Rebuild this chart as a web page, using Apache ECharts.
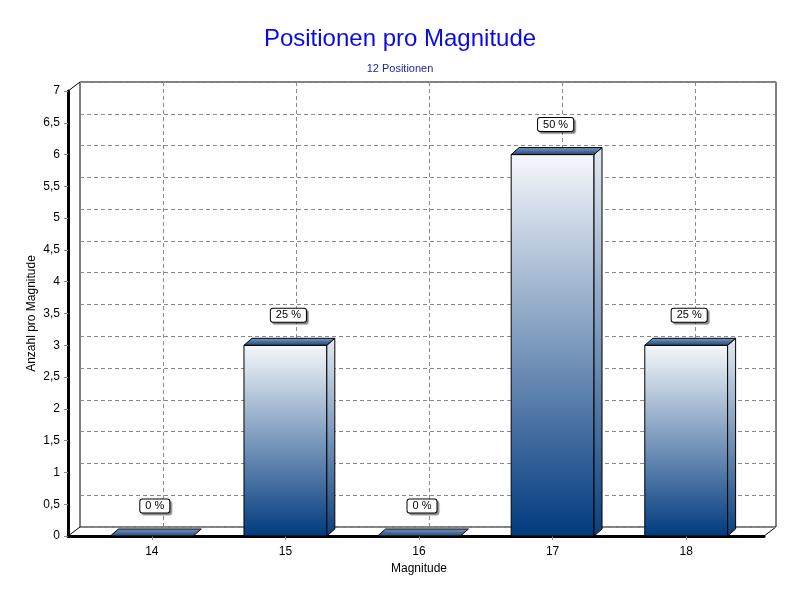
<!DOCTYPE html>
<html>
<head>
<meta charset="utf-8">
<script src="https://cdn.jsdelivr.net/npm/echarts@6/dist/echarts.min.js"></script>
<style>
  html, body { margin: 0; padding: 0; background: #fff; }
  #chart { width: 800px; height: 600px; }
</style>
</head>
<body>
<div id="chart"></div>
<script>
// Daten
const magnitudes = ['14', '15', '16', '17', '18'];
const anzahl = [0, 3, 0, 6, 3];
const total = anzahl.reduce((a, b) => a + b, 0);
const prozent = anzahl.map(v => Math.round(v / total * 100) + ' %');

const DX = 8, DY = -7; // 3D-Tiefe

const chart = echarts.init(document.getElementById('chart'));

const dashed = { show: true, lineStyle: { color: '#8a8a8a', type: [4, 3], width: 1 } };
const hidden = { show: false };

const renderBar = (params, api) => {
  const idx = api.value(0);
  const val = api.value(1);
  const top = api.coord([idx, val]);
  const base = api.coord([idx, 0]);
  const w = api.size([1, 0])[0] * 0.62;
  const x0 = top[0] - w / 2, x1 = top[0] + w / 2;
  const yt = top[1], yb = base[1];
  const frontFill = new echarts.graphic.LinearGradient(0, 0, 0, 1, [
    { offset: 0, color: '#f6f8fb' },
    { offset: 1, color: '#003a7e' }
  ]);
  const sideFill = new echarts.graphic.LinearGradient(0, 0, 0, 1, [
    { offset: 0, color: '#e4eaf2' },
    { offset: 1, color: '#0b3f7c' }
  ]);
  const topFill = new echarts.graphic.LinearGradient(0, 0, 0, 1, [
    { offset: 0, color: '#7f9cc0' },
    { offset: 1, color: '#1b4479' }
  ]);
  const children = [];
  if (yb - yt > 0.5) {
    children.push({
      type: 'rect',
      shape: { x: x0, y: yt, width: w, height: yb - yt },
      style: { fill: frontFill, stroke: '#000', lineWidth: 1 }
    });
    children.push({
      type: 'polygon',
      shape: { points: [[x1, yt], [x1 + DX, yt + DY], [x1 + DX, yb + DY], [x1, yb]] },
      style: { fill: sideFill, stroke: '#000', lineWidth: 1 }
    });
  }
  children.push({
    type: 'polygon',
    shape: { points: [[x0, yt], [x0 + DX, yt + DY], [x1 + DX, yt + DY], [x1, yt]] },
    style: { fill: topFill, stroke: '#000', lineWidth: 1 }
  });
  children.push({
    type: 'text',
    x: top[0] + 3,
    y: yt - 30,
    style: {
      text: prozent[params.dataIndex],
      align: 'center',
      verticalAlign: 'middle',
      font: '11px "Liberation Sans", Arial, sans-serif',
      fill: '#000',
      backgroundColor: '#fff',
      borderColor: '#000',
      borderWidth: 1,
      borderRadius: 2,
      padding: [1, 5, 1, 5],
      shadowColor: 'rgba(0,0,0,0.35)',
      shadowOffsetX: 2,
      shadowOffsetY: 2,
      shadowBlur: 1
    }
  });
  return { type: 'group', children };
};

const option = {
  backgroundColor: '#fff',
  animation: false,
  title: {
    text: 'Positionen pro Magnitude',
    subtext: '12 Positionen',
    left: 'center',
    top: 22,
    itemGap: 12,
    textStyle: { color: '#0a0ae6', fontSize: 24, fontWeight: 'normal', fontFamily: '"Liberation Sans", Arial, sans-serif' },
    subtextStyle: { color: '#1c1ca8', fontSize: 11, fontFamily: '"Liberation Sans", Arial, sans-serif' }
  },
  grid: [
    { left: 80, right: 24, top: 82, bottom: 73, show: true, borderColor: '#000', borderWidth: 1, backgroundColor: 'transparent' },
    { left: 163, right: 105, top: 82, bottom: 73 },
    { left: 68, right: 36, top: 91, bottom: 64 },
    { left: 85, right: 47, top: 91, bottom: 64 }
  ],
  xAxis: [
    { gridIndex: 0, type: 'value', min: 0, max: 1, axisLine: hidden, axisTick: hidden, axisLabel: hidden, splitLine: hidden },
    { gridIndex: 1, type: 'value', min: 0, max: 4, interval: 1, axisLine: hidden, axisTick: hidden, axisLabel: hidden, splitLine: dashed },
    { gridIndex: 2, type: 'value', min: 0, max: 1, axisLine: { show: true, lineStyle: { color: '#000', width: 3 } }, axisTick: hidden, axisLabel: hidden, splitLine: hidden },
    {
      gridIndex: 3, type: 'category', data: magnitudes,
      name: 'Magnitude', nameLocation: 'middle', nameGap: 27,
      nameTextStyle: { color: '#000', fontSize: 12, fontFamily: '"Liberation Sans", Arial, sans-serif' },
      axisLine: hidden,
      axisTick: { show: true, alignWithLabel: true, length: 4, lineStyle: { color: '#8a8a8a' } },
      axisLabel: { color: '#000', fontSize: 12, margin: 10, fontFamily: '"Liberation Sans", Arial, sans-serif' },
      splitLine: hidden
    }
  ],
  yAxis: [
    { gridIndex: 0, type: 'value', min: 0, max: 7, interval: 0.5, axisLine: hidden, axisTick: hidden, axisLabel: hidden, splitLine: dashed },
    { gridIndex: 1, type: 'value', min: 0, max: 7, show: false },
    {
      gridIndex: 2, type: 'value', min: 0, max: 7, interval: 0.5,
      name: 'Anzahl pro Magnitude', nameLocation: 'middle', nameGap: 30, nameMoveOverlap: false,
      nameTextStyle: { color: '#000', fontSize: 12, fontFamily: '"Liberation Sans", Arial, sans-serif' },
      axisLine: { show: true, lineStyle: { color: '#000', width: 3 } },
      axisTick: { show: true, length: 4, lineStyle: { color: '#8a8a8a' } },
      axisLabel: { color: '#000', fontSize: 12, margin: 8, fontFamily: '"Liberation Sans", Arial, sans-serif',
        formatter: v => String(v).replace('.', ',') },
      splitLine: hidden
    },
    { gridIndex: 3, type: 'value', min: 0, max: 7, show: false }
  ],
  graphic: [
    { type: 'line', shape: { x1: 68, y1: 91, x2: 80, y2: 82 }, style: { stroke: '#000', lineWidth: 1 } },
    { type: 'line', shape: { x1: 68, y1: 536, x2: 80, y2: 527 }, style: { stroke: '#000', lineWidth: 1 } },
    { type: 'line', shape: { x1: 764, y1: 536, x2: 776, y2: 527 }, style: { stroke: '#000', lineWidth: 1 } }
  ],
  series: [
    {
      type: 'custom',
      xAxisIndex: 3,
      yAxisIndex: 3,
      renderItem: renderBar,
      data: anzahl.map((v, i) => [i, v]),
      z: 5
    }
  ]
};

chart.setOption(option);
</script>
</body>
</html>
